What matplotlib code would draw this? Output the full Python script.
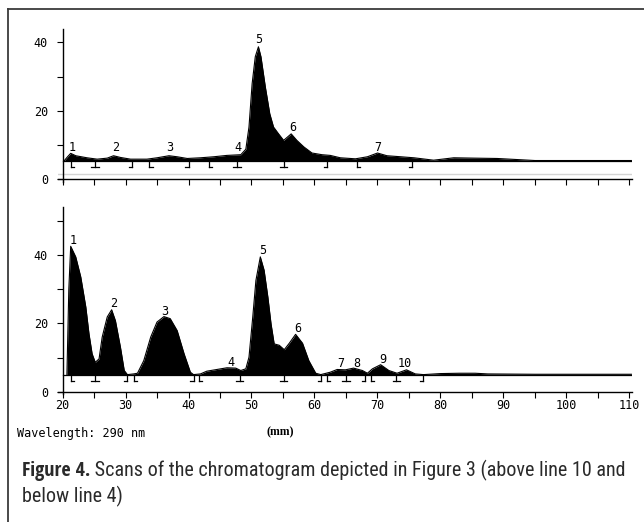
import matplotlib
matplotlib.use("Agg")
import matplotlib.pyplot as plt
from matplotlib import font_manager
from matplotlib.font_manager import FontProperties
from matplotlib.lines import Line2D
from matplotlib.ticker import MultipleLocator

# trace above line 10 (mm along plate, detector value)
upper_mm = [20.3, 20.8, 21.3, 22.1, 23.9, 25.5, 27.1, 28.1, 29.2, 30.8, 33.4,
            35.0, 36.9, 38.2, 39.8, 41.9, 44.0, 46.1, 48.3, 49.1, 49.6, 50.1,
            50.6, 51.1, 51.5, 52.2, 52.9, 53.5, 54.3, 55.1, 56.3, 57.2, 58.3,
            59.6, 61.2, 62.5, 64.1, 66.5, 68.4, 70.0, 71.5, 73.7, 75.8, 78.9,
            82.1, 85.3, 89.0, 95.0, 110.3]
upper_val = [5.4, 6.5, 7.5, 6.8, 6.2, 5.8, 6.1, 6.8, 6.3, 5.8, 5.8,
             6.2, 6.8, 6.5, 6.0, 6.2, 6.5, 6.9, 7.1, 8.7, 15.2, 27.9,
             35.8, 38.7, 35.8, 26.9, 19.1, 15.2, 13.2, 11.3, 13.2, 11.3, 9.4,
             7.6, 7.1, 6.9, 6.2, 5.9, 6.5, 7.6, 6.8, 6.5, 6.2, 5.5,
             6.2, 6.1, 6.0, 5.4, 5.4]
upper_base = 5.4

# trace below line 4
lower_mm = [20.7, 21.0, 21.3, 22.1, 22.9, 23.7, 24.2, 24.7, 25.2, 25.8, 26.3,
            27.1, 27.8, 28.4, 29.2, 29.8, 30.3, 31.3, 31.9, 32.9, 34.0, 35.0,
            36.1, 37.1, 38.2, 39.3, 40.3, 40.8, 41.9, 42.9, 44.5, 46.1, 47.5,
            48.3, 49.1, 49.6, 50.2, 50.7, 51.4, 52.0, 52.6, 53.1, 53.6, 54.4,
            55.2, 56.0, 57.0, 58.1, 59.1, 60.2, 61.0, 62.5, 63.6, 64.9, 66.2,
            67.6, 68.4, 69.2, 70.5, 71.8, 73.1, 74.6, 76.0, 77.3, 80.0, 83.0,
            85.5, 87.5, 95.0, 110.3]
lower_val = [5.0, 30.0, 42.6, 39.5, 33.6, 24.8, 17.0, 11.1, 8.6, 9.6, 16.0,
             21.9, 24.0, 20.8, 13.0, 6.2, 5.0, 5.2, 5.4, 9.1, 16.0, 20.4,
             22.0, 21.4, 17.9, 11.1, 5.7, 5.0, 5.2, 6.0, 6.5, 7.0, 6.9,
             6.2, 6.7, 10.1, 21.9, 32.6, 39.5, 35.6, 27.7, 19.9, 14.0, 13.6,
             12.3, 14.2, 16.8, 14.2, 9.1, 5.4, 5.0, 5.7, 6.5, 6.4, 6.9,
             6.2, 5.4, 6.7, 7.9, 6.2, 5.4, 6.4, 5.2, 5.0, 5.3, 5.4,
             5.4, 5.2, 5.1, 5.1]
lower_base = 5.0

# integration marks: L = start, R = end, T = split
upper_marks = [(21.3, "L"), (25.2, "T"), (31.0, "R"), (33.8, "L"), (40.0, "R"),
               (43.3, "L"), (47.7, "T"), (55.1, "T"), (62.0, "R"), (66.7, "L"),
               (75.5, "R")]
lower_marks = [(21.3, "L"), (25.2, "T"), (30.3, "R"), (31.3, "L"), (40.8, "R"),
               (41.6, "L"), (48.1, "T"), (55.1, "T"), (61.0, "R"), (62.0, "L"),
               (65.0, "T"), (68.0, "R"), (69.0, "L"), (73.0, "T"), (77.3, "R")]

# peak numbers
upper_peaks = [("1", 21.5, 9.2), ("2", 28.4, 9.2), ("3", 37.1, 9.2), ("4", 47.8, 9.2),
               ("5", 51.2, 40.7), ("6", 56.5, 15.2), ("7", 70.0, 9.1)]
lower_peaks = [("1", 21.7, 44.4), ("2", 28.1, 25.9), ("3", 36.2, 23.5), ("4", 46.7, 8.5),
               ("5", 51.8, 41.5), ("6", 57.3, 18.5), ("7", 64.1, 8.3), ("8", 66.7, 8.3),
               ("9", 70.8, 9.3), ("10", 74.4, 8.3)]

W, H = 644, 522
MONO = "DejaVu Sans Mono"


def px_box(left, top, right, bottom):
    return [left / W, 1 - bottom / H, (right - left) / W, (bottom - top) / H]


def narrow_font(bold):
    # look for an installed condensed sans face for the caption
    want = "bold" if bold else "normal"
    prefs = ["Liberation Sans Narrow", "Open Sans Condensed", "Roboto Condensed",
             "Noto Sans Condensed", "DejaVu Sans Condensed", "DejaVu Sans"]
    cands = []
    for f in font_manager.fontManager.ttflist:
        if f.style != "normal":
            continue
        is_bold = f.weight in ("bold", 700, 600, "semibold", "demibold")
        if is_bold != bold:
            continue
        if f.weight in (300, "light", 200, "extra light", 100):
            continue
        cond = ("condensed" in str(f.stretch)) or ("Narrow" in f.name) or \
               ("Condensed" in f.name) or ("Condensed" in f.fname) or ("Narrow" in f.fname)
        if not cond:
            continue
        rank = len(prefs)
        for i, p in enumerate(prefs):
            if f.name.startswith(p.split()[0]) and ("Narrow" in p) == ("Narrow" in f.name):
                rank = i
                break
        cands.append((rank, f.fname))
    if cands:
        cands.sort()
        return FontProperties(fname=cands[0][1])
    return FontProperties(family="Open Sans", weight=want)


def draw_marks(ax, marks, base):
    h = 1.9
    for x, kind in marks:
        ax.plot([x, x], [base, base - h], color="black", lw=0.9)
        if kind == "L":
            xs = [x, x + 0.5]
        elif kind == "R":
            xs = [x - 0.5, x]
        else:
            xs = [x - 0.6, x + 0.6]
        ax.plot(xs, [base - h, base - h], color="black", lw=0.9)


def style_axes(ax, ytop, show_xlabels):
    ax.set_xlim(19.3, 110.4)
    ax.set_ylim(-0.8, ytop)
    for s in ["top", "right"]:
        ax.spines[s].set_visible(False)
    ax.spines["left"].set_position(("data", 20))
    ax.spines["bottom"].set_position(("data", 0))
    ax.spines["left"].set_bounds(-0.8, ytop)
    for s in ["left", "bottom"]:
        ax.spines[s].set_linewidth(1.0)
    ax.xaxis.set_major_locator(MultipleLocator(10))
    ax.xaxis.set_minor_locator(MultipleLocator(5))
    ax.yaxis.set_major_locator(MultipleLocator(20))
    ax.yaxis.set_minor_locator(MultipleLocator(10))
    ax.tick_params(which="both", direction="out", length=4, width=0.8)
    ax.tick_params(axis="y", pad=6.5, labelsize=8.5)
    ax.tick_params(axis="x", pad=1.5, labelsize=8.5, labelbottom=show_xlabels)
    for lab in ax.get_xticklabels() + ax.get_yticklabels():
        lab.set_family(MONO)
    ax.patch.set_alpha(0)


def draw_trace(ax, xs, ys, base, peaks):
    ax.axhline(base, xmin=0.008, color="black", lw=0.9)
    ax.fill_between(xs, ys, base, color="black", lw=0)
    ax.plot(xs, ys, color="black", lw=0.8)
    for txt, x, y in peaks:
        ax.text(x, y, txt, ha="center", va="center", fontsize=8.5, family=MONO)


fig = plt.figure(figsize=(W / 100, H / 100), dpi=100)

ax_up = fig.add_axes(px_box(58.1, 28.7, 632, 181.7))
ax_up.plot([19.3, 110.4], [1.6, 1.6], color="#d4d4d4", lw=1.0)
draw_trace(ax_up, upper_mm, upper_val, upper_base, upper_peaks)
draw_marks(ax_up, upper_marks, upper_base)
style_axes(ax_up, 44, False)

ax_lo = fig.add_axes(px_box(58.1, 207.4, 632, 394.4))
draw_trace(ax_lo, lower_mm, lower_val, lower_base, lower_peaks)
draw_marks(ax_lo, lower_marks, lower_base)
style_axes(ax_lo, 54, True)

fig.text(17 / W, 1 - 434 / H, "Wavelength: 290 nm", family=MONO, fontsize=8.5,
         ha="left", va="center")
fig.text(280 / W, 1 - 432 / H, "(mm)", family="Liberation Serif", weight="bold",
         fontsize=8.5, ha="center", va="center")

# frame lines (left and top)
fig.add_artist(Line2D([7.5 / W, 7.5 / W], [0, 1 - 9 / H], color="#3a3a3a", lw=1.3))
fig.add_artist(Line2D([7.5 / W, 1], [1 - 9 / H, 1 - 9 / H], color="#3a3a3a", lw=1.3))

# caption
fp_bold = narrow_font(True)
fp_reg = narrow_font(False)
cap_size = 14
t1 = fig.text(22 / W, 1 - 476 / H, "Figure 4.", fontproperties=fp_bold,
              fontsize=cap_size, color="#2a2a2a", va="baseline")
t2 = fig.text(0, 1 - 476 / H,
              " Scans of the chromatogram depicted in Figure 3 (above line 10 and",
              fontproperties=fp_reg, fontsize=cap_size, color="#2a2a2a", va="baseline")
t3 = fig.text(22 / W, 1 - 502 / H, "below line 4)", fontproperties=fp_reg,
              fontsize=cap_size, color="#2a2a2a", va="baseline")

renderer = fig.canvas.get_renderer()
w1 = t1.get_window_extent(renderer).width
w2 = t2.get_window_extent(renderer).width
scale = min(1.25, 608 / (w1 + w2))
for t in (t1, t2, t3):
    t.set_fontsize(cap_size * scale)
w1 = t1.get_window_extent(renderer).width
t2.set_x((22 + w1) / W)

fig.savefig("out.png", dpi=100)
